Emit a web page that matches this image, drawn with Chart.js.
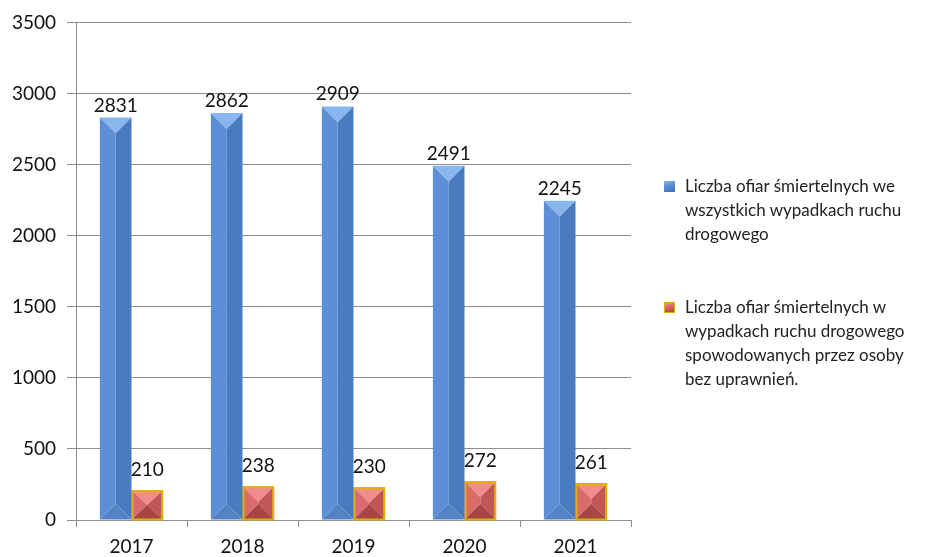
<!DOCTYPE html>
<html lang="pl">
<head>
<meta charset="utf-8">
<script src="https://cdn.jsdelivr.net/npm/chart.js@4/dist/chart.umd.min.js"></script>
<style>
  html, body { margin: 0; padding: 0; background: #fff; }
  #wrap { position: relative; width: 950px; height: 557px; }
  #chart { position: absolute; left: 0; top: 0; }
  .legend { position: absolute; left: 664px; font-family: Lato, "Open Sans", sans-serif; font-size: 17px; line-height: 24px; color: #222; }
  .legend .item { position: relative; padding-left: 21px; }
  .legend .mk { position: absolute; left: 0; top: 7px; width: 11px; height: 11px; box-sizing: border-box; }
  .mk.blue { background: linear-gradient(160deg, #8db8ef 0%, #5a8dd3 45%, #3f6fb0 100%); }
  .mk.red { background: linear-gradient(160deg, #f29494 0%, #d46464 50%, #a84848 100%); border: 1.5px solid #e0aa00; }
</style>
</head>
<body>
<div id="wrap">
  <canvas id="chart" width="950" height="557"></canvas>
  <div class="legend" id="legend"></div>
</div>
<script>
// Years on the category axis
const years = ['2017', '2018', '2019', '2020', '2021'];
// Fatalities in all road accidents
const allFatalities = [2831, 2862, 2909, 2491, 2245];
// Fatalities in accidents caused by unlicensed drivers
const unlicensedFatalities = [210, 238, 230, 272, 261];
// Series names shown in the legend
const seriesNames = [
  ['Liczba ofiar śmiertelnych we', 'wszystkich wypadkach ruchu', 'drogowego'],
  ['Liczba ofiar śmiertelnych w', 'wypadkach ruchu drogowego', 'spowodowanych przez osoby', 'bez uprawnień.']
];

const fontFamily = 'Lato, "Open Sans", sans-serif';

// Faceted face colours for each series: top, left, right, bottom, border
const faces = [
  { top: '#88b6ef', left: '#5c8fd5', right: '#4a7bbe', bottom: '#5283c7', border: null },
  { top: '#f18c8c', left: '#d96b6b', right: '#c05656', bottom: '#a84646', border: '#e3b000' }
];

// Draws each bar as a bevelled block, using the element geometry from Chart.js
const bevelBars = {
  id: 'bevelBars',
  beforeDatasetDraw(chart, args) {
    const { ctx } = chart;
    const meta = args.meta;
    const f = faces[args.index];
    meta.data.forEach(el => {
      const { x, y, base, width } = el.getProps(['x', 'y', 'base', 'width'], true);
      const l = x - width / 2, r = x + width / 2;
      const t = Math.min(y, base), b = Math.max(y, base);
      const h = b - t;
      const d = Math.min(width / 2, h / 2);
      const poly = (pts, color) => {
        ctx.beginPath();
        ctx.moveTo(pts[0][0], pts[0][1]);
        for (let i = 1; i < pts.length; i++) ctx.lineTo(pts[i][0], pts[i][1]);
        ctx.closePath();
        ctx.fillStyle = color;
        ctx.fill();
      };
      ctx.save();
      poly([[l, t], [r, t], [x, t + d]], f.top);
      poly([[l, t], [x, t + d], [x, b - d], [l, b]], f.left);
      poly([[r, t], [r, b], [x, b - d], [x, t + d]], f.right);
      poly([[l, b], [x, b - d], [r, b]], f.bottom);
      if (f.border) {
        ctx.lineWidth = 2;
        ctx.strokeStyle = f.border;
        ctx.strokeRect(l + 1, t + 1, width - 2, h - 1);
      }
      ctx.restore();
    });
    return false;
  },
  afterDatasetsDraw(chart) {
    const { ctx } = chart;
    ctx.save();
    ctx.font = '19px ' + fontFamily;
    ctx.fillStyle = '#111';
    ctx.textAlign = 'center';
    ctx.textBaseline = 'alphabetic';
    chart.data.datasets.forEach((ds, i) => {
      const meta = chart.getDatasetMeta(i);
      const gap = i === 0 ? 6 : 14;
      meta.data.forEach((el, j) => {
        ctx.fillText(String(ds.data[j]), el.x, el.y - gap);
      });
    });
    ctx.restore();
  }
};

const gridColor = '#8e8e8e';

new Chart(document.getElementById('chart'), {
  type: 'bar',
  data: {
    labels: years,
    datasets: [
      { label: seriesNames[0].join(' '), data: allFatalities, backgroundColor: '#4f81bd' },
      { label: seriesNames[1].join(' '), data: unlicensedFatalities, backgroundColor: '#c0504d' }
    ]
  },
  options: {
    responsive: false,
    animation: false,
    events: [],
    layout: { padding: { top: 22, right: 319, left: 0, bottom: 0 } },
    datasets: { bar: { categoryPercentage: 0.57, barPercentage: 1.0 } },
    plugins: { legend: { display: false }, tooltip: { enabled: false } },
    scales: {
      x: {
        offset: true,
        grid: { offset: true, drawOnChartArea: false, drawTicks: true, tickLength: 7, color: gridColor },
        border: { display: true, color: gridColor },
        ticks: { padding: 8, color: '#111', font: { family: fontFamily, size: 19 } },
        afterFit(scale) { scale.height = 37; }
      },
      y: {
        min: 0,
        max: 3500,
        ticks: {
          stepSize: 500, padding: 11, color: '#111', font: { family: fontFamily, size: 19 },
          callback: v => String(v)
        },
        grid: { color: gridColor, tickLength: 9, drawTicks: true },
        border: { display: true, color: gridColor },
        afterFit(scale) { scale.width = 76; }
      }
    }
  },
  plugins: [bevelBars]
});

// HTML legend built from the series names
const legend = document.getElementById('legend');
const tops = [174, 295];
seriesNames.forEach((lines, i) => {
  const item = document.createElement('div');
  item.className = 'item';
  item.style.position = 'absolute';
  item.style.top = tops[i] + 'px';
  item.style.whiteSpace = 'nowrap';
  const mk = document.createElement('span');
  mk.className = 'mk ' + (i === 0 ? 'blue' : 'red');
  item.appendChild(mk);
  lines.forEach(line => {
    const d = document.createElement('div');
    d.textContent = line;
    item.appendChild(d);
  });
  legend.appendChild(item);
});
</script>
</body>
</html>
